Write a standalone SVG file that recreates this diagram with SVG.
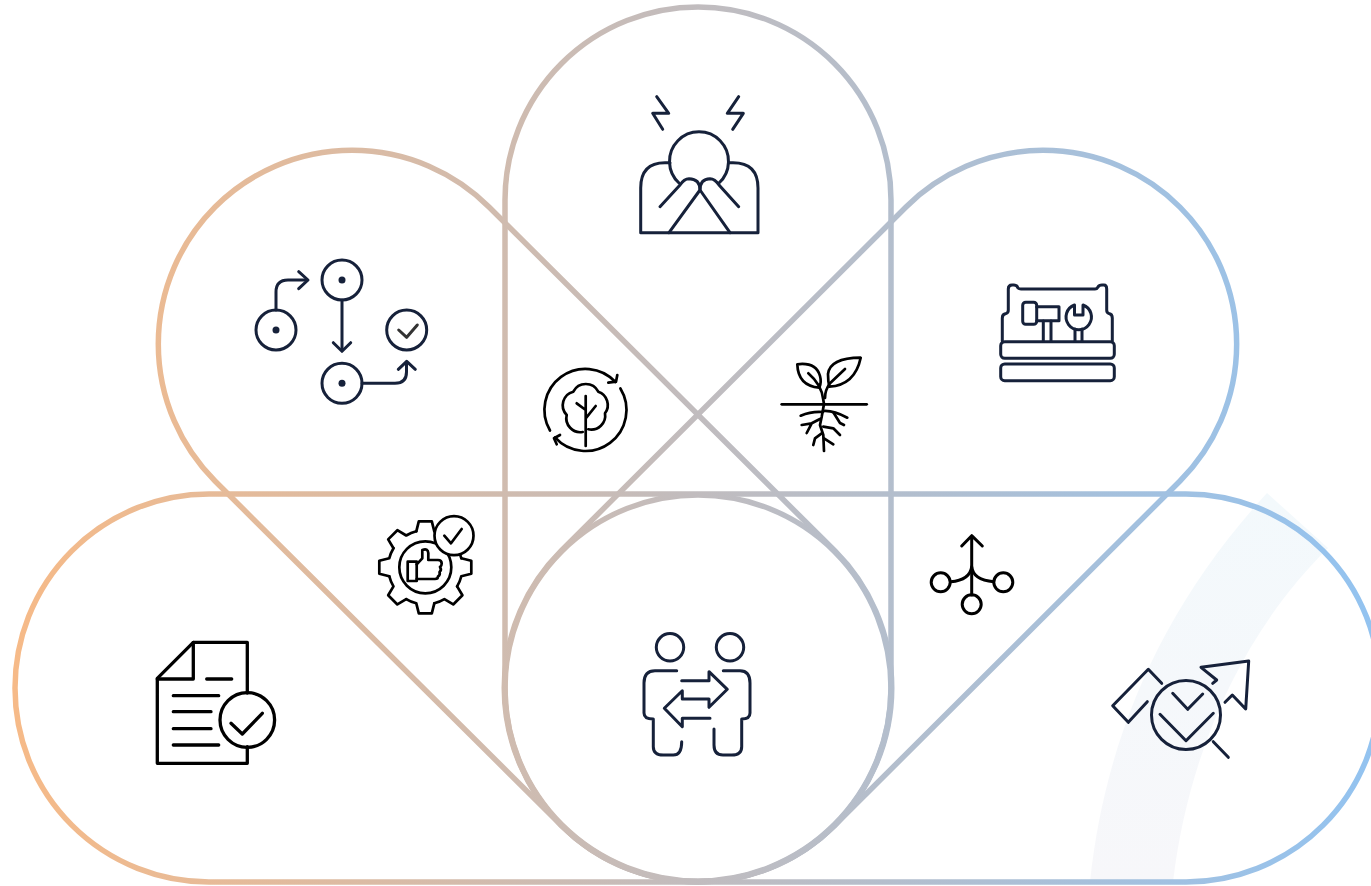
<svg xmlns="http://www.w3.org/2000/svg" xmlns:xlink="http://www.w3.org/1999/xlink" width="1371" height="886" viewBox="0 0 1371 886">
<defs>
<linearGradient id="edge" gradientUnits="userSpaceOnUse" x1="15" y1="0" x2="1371" y2="0">
<stop offset="0" stop-color="#f6ba88"/><stop offset="0.5" stop-color="#c1bcbe"/><stop offset="1" stop-color="#93c3f0"/>
</linearGradient>
<linearGradient id="band" x1="0" y1="0" x2="0" y2="1">
<stop offset="0" stop-color="#f3f9fc"/><stop offset="1" stop-color="#f7f7fa"/>
</linearGradient>
<path id="tooth" d="M-9,-36 L-6.5,-46 H6.5 L9,-36 A36,36 0 0 1 19.09,-31.82"/>
</defs>
<style>
.p{fill:none;stroke:url(#edge);stroke-width:5.5}
.i{fill:none;stroke:#16213a;stroke-width:3;stroke-linecap:round;stroke-linejoin:round}
.b{fill:none;stroke:#000;stroke-width:2.7;stroke-linecap:round;stroke-linejoin:round}
.d{fill:#16213a}
</style>
<rect width="1371" height="886" fill="#fff"/>
<path id="band-shape" d="M1090,882 C1105,740 1160,610 1267,493 L1328,548 C1250,625 1190,740 1173,882 Z" fill="url(#band)"/>
<g id="connectors">
<rect class="p" x="15" y="494" width="1365" height="388" rx="194" ry="194"/>
<rect class="p" x="505" y="7" width="386" height="875" rx="193" ry="193"/>
<circle class="p" cx="698" cy="688" r="193"/>
<path class="p" d="M489,207 L835,551 A193.7,193.7 0 0 1 561,825 L215,481 A193.7,193.7 0 0 1 489,207 Z"/>
<path class="p" d="M906,207 A193.7,193.7 0 0 1 1180,481 L835,825 A193.7,193.7 0 0 1 561,551 Z"/>
</g>
<g id="node-distress" class="i">
<path d="M656.7,96.7 L668.7,113.3 H652.7 L662.7,129.3"/>
<path d="M738.7,96.7 L727.3,113.3 H743.3 L732.7,129.3"/>
<path d="M679,183 A29.5,29.5 0 1 1 719,183"/>
<path d="M670,162.7 H665 Q640.7,162.7 640.7,188 V232.7 H758 V188 Q758,162.7 733,162.7 H729"/>
<path d="M660,206.7 L680,185 Q684,178.7 689,178.7 Q700,179 700,190 L669,232.7"/>
<path d="M738.7,206.7 L719,185 Q715,178.7 710,178.7 Q700,179 700,190 L730,232.7"/>
</g>
<g id="node-process" class="i">
<circle cx="276" cy="330" r="20"/><circle cx="342" cy="280" r="20"/><circle cx="342" cy="383.3" r="20"/><circle cx="406.7" cy="330" r="20"/>
<path d="M276,310 V292 Q276,280 288,280 H307"/><path d="M298.7,271.7 L308,280 L298.7,288.7"/>
<path d="M342,300 V350"/><path d="M333.3,342.7 L342,351.3 L350.7,342.7"/>
<path d="M362,383.3 H395 Q406.5,383.3 406.5,372 V362"/><path d="M398.3,369.3 L406.7,361.3 L415.3,369.3"/>
<path d="M398.7,330 L406.7,337.3 L417.3,325" stroke="#333"/>
<circle class="d" stroke="none" cx="276" cy="330" r="3.5"/><circle class="d" stroke="none" cx="342" cy="280" r="3.5"/><circle class="d" stroke="none" cx="342" cy="383.3" r="3.5"/>
</g>
<g id="node-toolbox" class="i">
<rect x="1000.7" y="341.7" width="113.6" height="16.6" rx="4"/>
<rect x="1000.7" y="364" width="113.6" height="16.7" rx="4"/>
<path d="M1002.3,341 V318 Q1002.3,314 1006,313.5 Q1008.3,313 1008.3,310 V289 Q1008.3,285 1012,285 H1014 Q1017,285 1018,288 Q1019,289 1021,289 H1095 Q1097,289 1098,287 Q1099,285 1102,285 H1104 Q1106.7,285 1106.7,289 V310 Q1106.7,313 1109,313.5 Q1112.3,314 1112.3,318 V341"/>
<rect x="1022.7" y="302.3" width="14" height="22" rx="3"/>
<path d="M1036.7,306.7 H1059 V320.7 H1036.7"/>
<path d="M1043.3,321 V341 M1051,321 V341"/>
<path d="M1074.5,305 V315 H1083 V305 A12.7,12.7 0 1 1 1074.5,305 Z"/>
<path d="M1075,329 V341 M1082,329 V341"/>
</g>
<g id="node-tree" class="b">
<path d="M550,430.5 A41,41 0 0 1 615.5,382"/>
<path d="M608.3,382.7 L616,381.7 L617.3,375"/>
<path d="M620.4,388.5 A41,41 0 0 1 555,437.4"/>
<path d="M560,435 L554,438.3 L556.7,444.3"/>
<path d="M582.7,432 A14,14 0 0 1 566.7,415 A14,14 0 0 1 573.3,391.7 A14,14 0 0 1 598.3,391.7 A14,14 0 0 1 605,413.3 A14,14 0 0 1 588.3,429.3"/>
<path d="M585.7,396 V446 M576.7,403.3 L585.7,410 M595.7,406 L585.7,418.3"/>
</g>
<g id="node-plant" class="b">
<path d="M781.7,404.3 H866.7"/>
<path d="M797.3,364.3 Q816,362 820,376 Q821.7,382 819.3,387.7 Q798,386 797.3,364.3 Z"/>
<path d="M860.7,357.7 Q830,358 828,374 Q828,381 829.3,386.7 Q855,385 860.7,357.7 Z"/>
<path d="M808.3,373.3 Q822,385 823.3,400 L824,404"/>
<path d="M845,369 L830,383.3 Q825,390 825,398"/>
<path d="M824,404 L821.7,416.7 L820,425 L823.3,435 L824,451"/>
<path d="M800.7,415.7 Q811.7,411 823,412"/>
<path d="M823,411 Q833,410 847.3,417.7"/>
<path d="M833.3,412.3 L840,423 L844,425"/>
<path d="M820,419 L811.7,423.3 L801.7,425 M811.7,423.3 L806.7,433"/>
<path d="M823.3,426.7 L833.3,428.3 L840,435"/>
<path d="M821.7,433.3 L815,438.3 L813.3,445"/>
<path d="M824,438.3 L833.3,444.3"/>
</g>
<g id="node-quality" class="b">
<g transform="translate(425.3,567.3)">
<use xlink:href="#tooth" href="#tooth"/>
<use xlink:href="#tooth" href="#tooth" transform="rotate(45)"/>
<use xlink:href="#tooth" href="#tooth" transform="rotate(90)"/>
<use xlink:href="#tooth" href="#tooth" transform="rotate(135)"/>
<use xlink:href="#tooth" href="#tooth" transform="rotate(180)"/>
<use xlink:href="#tooth" href="#tooth" transform="rotate(225)"/>
<use xlink:href="#tooth" href="#tooth" transform="rotate(270)"/>
<use xlink:href="#tooth" href="#tooth" transform="rotate(315)"/>
</g>
<circle cx="425.3" cy="567.3" r="26"/>
<circle cx="454" cy="535.7" r="19.5" fill="#fff"/>
<path d="M444.3,535.7 L451,543.3 L461.7,529"/>
<rect x="407.7" y="561.7" width="9" height="19.3"/>
<path d="M416.7,564.3 L422.3,558.3 V550 Q428,548 428.3,553 V560 H438 Q441.7,560 441.7,563.5 Q441.7,566 440,567 Q442,570 439.5,572 Q440.5,575 438,576.5 Q438,579 435,579 H416.7"/>
</g>
<g id="node-branch" class="b" style="stroke-width:3">
<path d="M971.7,535.7 V595 M961.7,546 L971.7,535.7 L982.3,546"/>
<circle cx="940.7" cy="582.3" r="9.5"/><circle cx="1003.3" cy="582.3" r="9.5"/><circle cx="971.7" cy="604.3" r="9.5"/>
<path d="M950.7,581.7 Q970,580 971.7,566.7 Q973,580 993.7,581.7"/>
</g>
<g id="node-document" class="b" style="stroke-width:3.3">
<path d="M247.3,693 V642.3 H193.3 L157.3,678.3 V763.3 H247.3 V746.7"/>
<path d="M193.3,642.3 V679 H157.3"/>
<path d="M206.7,679 H231.7 M173.3,695.7 H218.7 M173.3,711.7 H211 M173.3,728.7 H211 M173.3,745 H218.7"/>
<circle cx="247.3" cy="720" r="27.3"/>
<path d="M231,723.3 L242.3,734 L262.3,713.3"/>
</g>
<g id="node-exchange" class="i">
<circle cx="670" cy="647.3" r="13.7"/><circle cx="730" cy="647.3" r="13.7"/>
<path d="M676.7,670.7 H655 Q644,670.7 644,683 V713 Q644,719 653.3,719 V746.7 Q653.3,755 663.3,755 H673.3 Q681.7,755 681.7,741.7"/>
<path d="M723.3,670.7 H740 Q750,670.7 750,683 V713 Q750,719 741.7,719 V746.7 Q741.7,755 731.7,755 H723 Q714,755 714,745 V729"/>
<path d="M681.7,680.7 H709 V671.7 L727.3,689.3 L709,707.3 V699 H682.3 V690.7 L664.3,708.3 L682.3,726.7 V718.3 H710"/>
</g>
<g id="node-analysis" class="i">
<path d="M1161.7,683.3 L1148.3,669.3 L1112.7,705.7 L1128.3,722.3 L1147.3,701.7"/>
<path d="M1212.7,683.3 L1216.7,680 L1201,667.3 L1248.7,661 L1245.7,709 L1232.3,695 L1225,702.3"/>
<circle cx="1186" cy="715" r="34.5"/>
<path d="M1213.3,741.7 L1228.3,757.3"/>
<path d="M1172.7,693.3 L1187.7,709.3 L1202.7,694"/>
<path d="M1160,714.3 L1186,740.7 L1213.3,713.3"/>
</g>
</svg>
